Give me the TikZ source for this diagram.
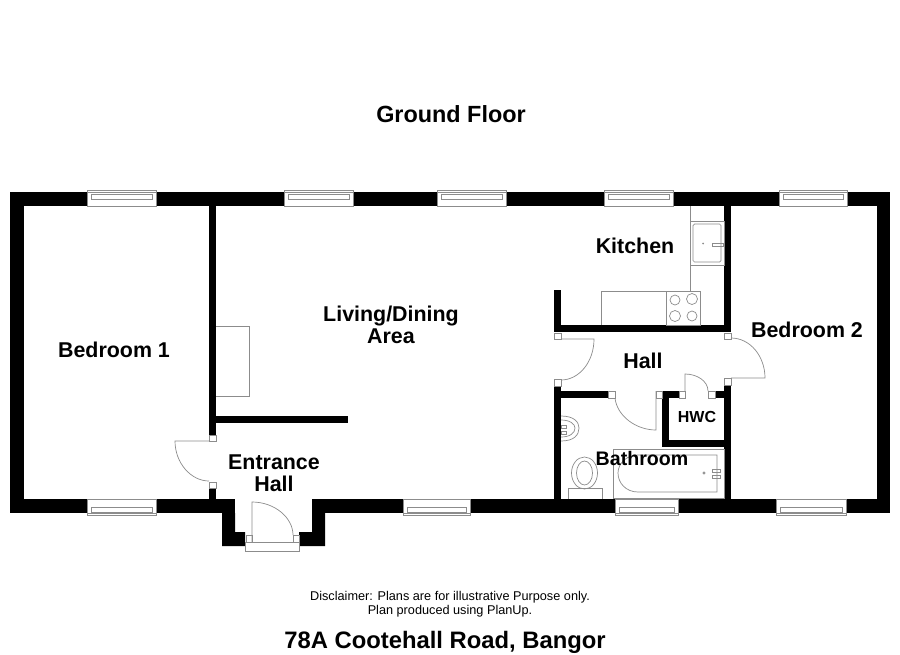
\documentclass[tikz,border=0pt]{standalone}
\usepackage{fontspec}
\setmainfont{Liberation Sans}
\tikzset{
    wall/.style={fill=black, draw=none},
    fitting/.style={draw=black!45, line width=0.7pt},
    jamb/.style={draw=black!45, fill=white, line width=0.7pt},
    roomlabel/.style={font=\bfseries\fontsize{21.4}{22}\selectfont, align=center, inner sep=0pt},
    smalllabel/.style={font=\fontsize{12.7}{14}\selectfont, align=center, inner sep=0pt}
}
\begin{document}
\begin{tikzpicture}[x=1pt, y=-1pt]
\useasboundingbox (0,0) rectangle (900,654);
\fill[white] (0,0) rectangle (900,654);
% outer walls
\fill[wall] (10,192) rectangle (890,206);
\fill[wall] (10,192) rectangle (23.5,513);
\fill[wall] (877,192) rectangle (890,513);
\fill[wall] (10,499) rectangle (890,513);
% porch
\fill[wall] (222,499) -- (235,499) -- (235,532) -- (245,532) -- (245,546) -- (222,546) -- cycle;
\fill[wall] (312,499) -- (325,499) -- (325,546) -- (299,546) -- (299,532) -- (312,532) -- cycle;
\fill[white] (235,499) rectangle (312,513);
% inner walls
\fill[wall] (209,206) rectangle (216,435);
\fill[wall] (209,488) rectangle (216,499);
\fill[wall] (216,416) rectangle (348,423);
\fill[wall] (724,206) rectangle (731,332);
\fill[wall] (554,325) rectangle (731,332);
\fill[wall] (554,290) rectangle (561,332);
\fill[wall] (554,386) rectangle (561,499);
\fill[wall] (724,385) rectangle (731,499);
\fill[wall] (561,391) rectangle (608,398);
\fill[wall] (662,391) rectangle (679,398);
\fill[wall] (715,391) rectangle (724,398);
\fill[wall] (662,391) rectangle (669,447);
\fill[wall] (662,440) rectangle (724,447);
% windows
\foreach \xa/\xb in {87/156, 284/353, 437/506, 604/673, 779/847} {
    \draw[jamb] (\xa,190) rectangle (\xb,206);
    \draw[fitting] (\xa,192) -- (\xb,192);
    \draw[fitting] (\xa+4,194) rectangle (\xb-4,199);
}
\foreach \xa/\xb in {87/156, 403/470, 615/678, 776/846} {
    \draw[jamb] (\xa,499) rectangle (\xb,515);
    \draw[fitting] (\xa,513) -- (\xb,513);
    \draw[fitting] (\xa+4,507) rectangle (\xb-4,512);
}
% door jambs
\foreach \xa/\ya/\xb/\yb in {209/435/216/441, 209/482/216/488, 554/333/561/339, 554/379/561/386,
    724/333/731/339, 724/378/731/385, 608/391/615/398, 656/391/662/398, 679/391/685/398, 708/391/715/398,
    246/535/252/542, 293/535/299/542} {
    \draw[jamb] (\xa,\ya) rectangle (\xb,\yb);
}
% doors
\draw[fitting] (209,441) -- (175,441) .. controls (175,463) and (191,481) .. (209,481);
\draw[fitting] (561,339) -- (594,339) .. controls (594,362) and (579,380) .. (561,380);
\draw[fitting] (731,338) .. controls (750,338) and (765,356) .. (765,378) -- (731,378);
\draw[fitting] (615,398) .. controls (617,416) and (636,430) .. (656,430) -- (656,391);
\draw[fitting] (685,391) -- (685,374) .. controls (697,374) and (708,381) .. (708,391);
\draw[fitting] (252,542) -- (252,502) .. controls (275,502) and (293,518) .. (293,535);
\draw[jamb] (245,542) rectangle (299,551);
\draw[fitting] (246,542) -- (246,535);
% kitchen
\draw[fitting] (690,206) -- (690,291);
\draw[fitting] (690,221) rectangle (724,265);
\draw[fitting, rounded corners=1.5pt] (693,224) rectangle (721,262);
\draw[fitting] (712,243) rectangle (723,246);
\fill[black!45] (703,243.5) circle (1pt);
\draw[fitting] (601,325) -- (601,291) -- (666,291);
\draw[fitting] (666,291) rectangle (700,325);
\draw[fitting] (675,300) circle (5pt) (692,299) circle (5.5pt) (675,316) circle (5.5pt) (692,316) circle (5pt);
% living room
\draw[fitting] (216,326) -- (249,326) -- (249,396) -- (216,396);
% bathroom
\draw[fitting] (561,416) .. controls (574,416) and (579,422) .. (579,428) .. controls (579,435) and (574,441) .. (561,441);
\draw[fitting] (561,420) .. controls (570,420) and (575,424) .. (575,428) .. controls (575,433) and (570,437) .. (561,437);
\draw[fitting] (561,425) rectangle (566,428) (561,431) rectangle (566,434);
\draw[fitting] (584.5,473) ellipse (13pt and 16pt);
\draw[fitting] (584.5,473) ellipse (8pt and 12pt);
\draw[fitting] (568,499) -- (568,488) -- (602,488) -- (602,499);
\draw[fitting] (613,449) rectangle (724,498);
\draw[fitting] (717,455) -- (717,492) -- (638,492) .. controls (626,492) and (618,483) .. (618,473) .. controls (618,464) and (626,455) .. (638,455) -- cycle;
\draw[fitting] (712,469) rectangle (720,472) (712,475) rectangle (720,478);
\draw[fitting] (704,473) circle (1.2pt);
% labels
\node[roomlabel, font=\bfseries\fontsize{23.4}{25}\selectfont] (groundfloor) at (451,114) {Ground Floor};
\node[roomlabel] (bedroomone) at (114,350) {Bedroom 1};
\node[roomlabel] (living) at (391,325) {Living/Dining\\Area};
\node[roomlabel] (kitchen) at (635,246) {Kitchen};
\node[roomlabel] (bedroomtwo) at (807,330) {Bedroom 2};
\node[roomlabel] (hall) at (643,361) {Hall};
\node[roomlabel, font=\bfseries\fontsize{16}{17}\selectfont] (hwc) at (697,417) {HWC};
\node[roomlabel, font=\bfseries\fontsize{19.6}{22}\selectfont] (bathroom) at (642,458) {Bathroom};
\node[roomlabel] (entrance) at (274,473) {Entrance\\Hall};
\node[smalllabel] (disclaimer) at (450,604) {Disclaimer: Plans are for illustrative Purpose only.\\Plan produced using PlanUp.};
\node[roomlabel, font=\bfseries\fontsize{23.8}{25}\selectfont] (address) at (445,642) {78A Cootehall Road, Bangor};
\end{tikzpicture}
\end{document}
